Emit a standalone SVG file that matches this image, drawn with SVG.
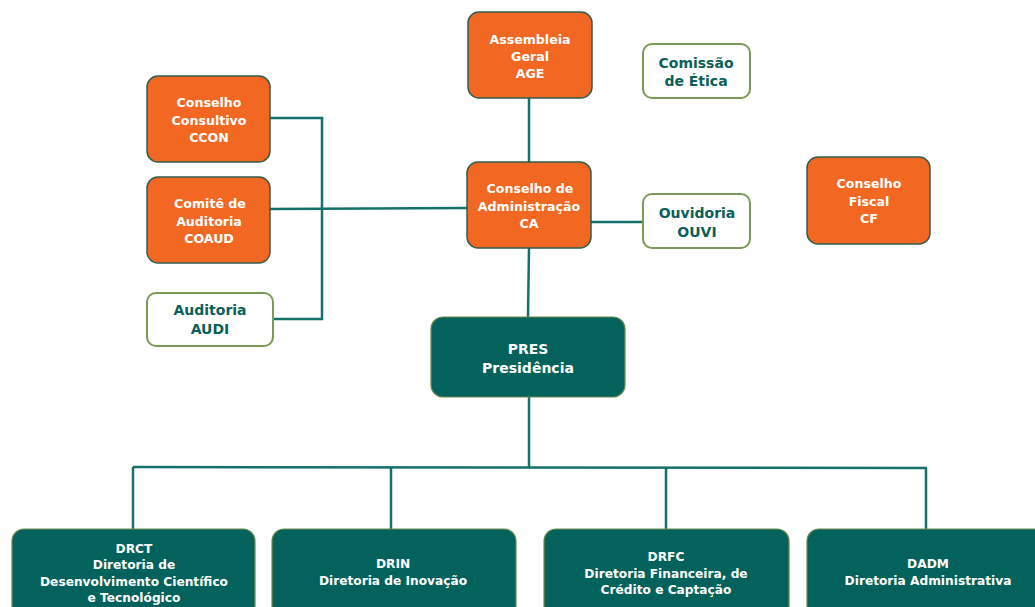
<svg xmlns="http://www.w3.org/2000/svg" width="1035" height="607" viewBox="0 0 1035 607">
<style>
.bg{fill:#ffffff}
.org{fill:#F26822;stroke:#2F5E50;stroke-width:1.5}
.wht{fill:#ffffff;stroke:#7A9A55;stroke-width:2}
.tea{fill:#03625B;stroke:#6E8A48;stroke-width:1.2}
.ln{fill:none;stroke:#13706A;stroke-width:2.5}
text{font-family:"DejaVu Sans","Verdana",sans-serif;font-weight:bold;text-anchor:middle}
.tw{fill:#ffffff;font-size:12.6px}
.tg{fill:#0B5F58;font-size:14px}
.tb{fill:#ffffff;font-size:12.2px}
.tp{fill:#ffffff;font-size:14px}
</style>
<rect class="bg" x="0" y="0" width="1035" height="607"/>
<g id="connectors">
<polyline class="ln" points="270,118 322,118 322,319 273,319"/>
<line class="ln" x1="270" y1="209" x2="467" y2="208"/>
<line class="ln" x1="529" y1="98" x2="529" y2="162"/>
<line class="ln" x1="591" y1="222" x2="643" y2="222"/>
<line class="ln" x1="529" y1="248" x2="528" y2="317"/>
<line class="ln" x1="529" y1="397" x2="529" y2="468"/>
<line class="ln" x1="133" y1="467" x2="927" y2="468"/>
<line class="ln" x1="133" y1="467" x2="133" y2="529"/>
<line class="ln" x1="391" y1="467" x2="391" y2="529"/>
<line class="ln" x1="666" y1="468" x2="666" y2="529"/>
<line class="ln" x1="926" y1="468" x2="926" y2="529"/>
</g>
<g id="age">
<rect class="org" x="468" y="12" width="124" height="86" rx="11"/>
<text class="tw" x="530" y="44">Assembleia</text>
<text class="tw" x="530" y="61">Geral</text>
<text class="tw" x="530" y="78">AGE</text>
</g>
<g id="etica">
<rect class="wht" x="643" y="44" width="107" height="54" rx="9"/>
<text class="tg" x="696" y="68">Comissão</text>
<text class="tg" x="696" y="86">de Ética</text>
</g>
<g id="ccon">
<rect class="org" x="147" y="76" width="123" height="86" rx="11"/>
<text class="tw" x="209" y="107">Conselho</text>
<text class="tw" x="209" y="125">Consultivo</text>
<text class="tw" x="209" y="142">CCON</text>
</g>
<g id="coaud">
<rect class="org" x="147" y="177" width="123" height="86" rx="11"/>
<text class="tw" x="210" y="208">Comitê de</text>
<text class="tw" x="209" y="226">Auditoria</text>
<text class="tw" x="209" y="243">COAUD</text>
</g>
<g id="audi">
<rect class="wht" x="147" y="293" width="126" height="53" rx="9"/>
<text class="tg" x="210" y="315">Auditoria</text>
<text class="tg" x="210" y="334">AUDI</text>
</g>
<g id="ca">
<rect class="org" x="467" y="162" width="124" height="86" rx="11"/>
<text class="tw" x="530" y="193">Conselho de</text>
<text class="tw" x="529" y="211">Administração</text>
<text class="tw" x="529" y="228">CA</text>
</g>
<g id="ouvi">
<rect class="wht" x="643" y="194" width="107" height="54" rx="9"/>
<text class="tg" x="697" y="218">Ouvidoria</text>
<text class="tg" x="697" y="237">OUVI</text>
</g>
<g id="cf">
<rect class="org" x="807" y="157" width="123" height="87" rx="11"/>
<text class="tw" x="869" y="188">Conselho</text>
<text class="tw" x="869" y="206">Fiscal</text>
<text class="tw" x="869" y="223">CF</text>
</g>
<g id="pres">
<rect class="tea" x="431" y="317" width="194" height="80" rx="12"/>
<text class="tp" x="528" y="354">PRES</text>
<text class="tp" x="528" y="373">Presidência</text>
</g>
<g id="drct">
<rect class="tea" x="12" y="529" width="243" height="90" rx="12"/>
<text class="tb" x="134" y="553">DRCT</text>
<text class="tb" x="134" y="569">Diretoria de</text>
<text class="tb" x="134" y="586">Desenvolvimento Científico</text>
<text class="tb" x="134" y="602">e Tecnológico</text>
</g>
<g id="drin">
<rect class="tea" x="272" y="529" width="244" height="90" rx="12"/>
<text class="tb" x="393" y="568">DRIN</text>
<text class="tb" x="393" y="585">Diretoria de Inovação</text>
</g>
<g id="drfc">
<rect class="tea" x="544" y="529" width="245" height="90" rx="12"/>
<text class="tb" x="666" y="561">DRFC</text>
<text class="tb" x="666" y="578">Diretoria Financeira, de</text>
<text class="tb" x="666" y="594">Crédito e Captação</text>
</g>
<g id="dadm">
<rect class="tea" x="807" y="529" width="245" height="90" rx="12"/>
<text class="tb" x="928" y="568">DADM</text>
<text class="tb" x="928" y="585">Diretoria Administrativa</text>
</g>
</svg>
